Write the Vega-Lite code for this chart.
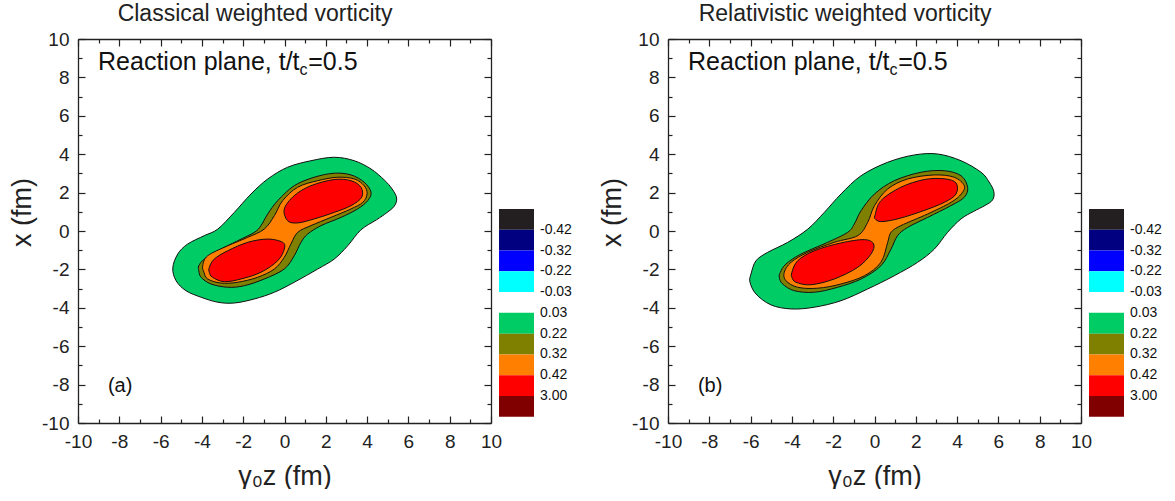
{
  "$schema": "https://vega.github.io/schema/vega-lite/v6.json",
  "autosize": {"type": "pad"},
  "padding": {"left": 8, "top": 3, "right": 0, "bottom": 0},
  "background": "white",
  "config": {
    "font": "Liberation Sans",
    "view": {"stroke": null},
    "axis": {"domainColor": "#222", "domainWidth": 1.3, "tickColor": "#222", "tickWidth": 1.2, "labelColor": "#222", "titleColor": "#222", "labelFont": "Liberation Sans", "titleFont": "Liberation Sans", "labelFontSize": 19, "titleFontSize": 27, "titleFontWeight": "normal", "grid": false, "labelOverlap": false, "labelFlush": false}
  },
  "bounds": "flush",
  "spacing": 8,
  "datasets": {
    "contours": [
      {"p":"a","g":"1","b":"0.03 to 0.22","i":0,"x":-5.41,"y":-1.93},{"p":"a","g":"1","b":"0.03 to 0.22","i":1,"x":-5.17,"y":-1.2},{"p":"a","g":"1","b":"0.03 to 0.22","i":2,"x":-4.69,"y":-0.68},{"p":"a","g":"1","b":"0.03 to 0.22","i":3,"x":-3.88,"y":-0.24},{"p":"a","g":"1","b":"0.03 to 0.22","i":4,"x":-3.23,"y":0.1},{"p":"a","g":"1","b":"0.03 to 0.22","i":5,"x":-2.43,"y":0.97},{"p":"a","g":"1","b":"0.03 to 0.22","i":6,"x":-1.62,"y":1.93},{"p":"a","g":"1","b":"0.03 to 0.22","i":7,"x":-0.81,"y":2.71},{"p":"a","g":"1","b":"0.03 to 0.22","i":8,"x":0.15,"y":3.32},{"p":"a","g":"1","b":"0.03 to 0.22","i":9,"x":1.28,"y":3.66},{"p":"a","g":"1","b":"0.03 to 0.22","i":10,"x":2.41,"y":3.84},{"p":"a","g":"1","b":"0.03 to 0.22","i":11,"x":3.38,"y":3.66},{"p":"a","g":"1","b":"0.03 to 0.22","i":12,"x":4.19,"y":3.23},{"p":"a","g":"1","b":"0.03 to 0.22","i":13,"x":4.83,"y":2.66},{"p":"a","g":"1","b":"0.03 to 0.22","i":14,"x":5.21,"y":2.19},{"p":"a","g":"1","b":"0.03 to 0.22","i":15,"x":5.43,"y":1.72},{"p":"a","g":"1","b":"0.03 to 0.22","i":16,"x":5.32,"y":1.3},{"p":"a","g":"1","b":"0.03 to 0.22","i":17,"x":4.95,"y":0.95},{"p":"a","g":"1","b":"0.03 to 0.22","i":18,"x":4.45,"y":0.58},{"p":"a","g":"1","b":"0.03 to 0.22","i":19,"x":3.7,"y":0.06},{"p":"a","g":"1","b":"0.03 to 0.22","i":20,"x":3.06,"y":-0.77},{"p":"a","g":"1","b":"0.03 to 0.22","i":21,"x":2.41,"y":-1.46},{"p":"a","g":"1","b":"0.03 to 0.22","i":22,"x":1.61,"y":-1.98},{"p":"a","g":"1","b":"0.03 to 0.22","i":23,"x":0.47,"y":-2.67},{"p":"a","g":"1","b":"0.03 to 0.22","i":24,"x":-0.49,"y":-3.19},{"p":"a","g":"1","b":"0.03 to 0.22","i":25,"x":-1.46,"y":-3.54},{"p":"a","g":"1","b":"0.03 to 0.22","i":26,"x":-2.43,"y":-3.75},{"p":"a","g":"1","b":"0.03 to 0.22","i":27,"x":-3.23,"y":-3.71},{"p":"a","g":"1","b":"0.03 to 0.22","i":28,"x":-4.04,"y":-3.45},{"p":"a","g":"1","b":"0.03 to 0.22","i":29,"x":-4.77,"y":-3.11},{"p":"a","g":"1","b":"0.03 to 0.22","i":30,"x":-5.25,"y":-2.59},
      {"p":"a","g":"2","b":"0.22 to 0.32","i":0,"x":-4.15,"y":-1.81},{"p":"a","g":"2","b":"0.22 to 0.32","i":1,"x":-3.88,"y":-1.46},{"p":"a","g":"2","b":"0.22 to 0.32","i":2,"x":-3.23,"y":-1.03},{"p":"a","g":"2","b":"0.22 to 0.32","i":3,"x":-2.27,"y":-0.51},{"p":"a","g":"2","b":"0.22 to 0.32","i":4,"x":-1.46,"y":-0.07},{"p":"a","g":"2","b":"0.22 to 0.32","i":5,"x":-1.14,"y":0.28},{"p":"a","g":"2","b":"0.22 to 0.32","i":6,"x":-0.81,"y":0.89},{"p":"a","g":"2","b":"0.22 to 0.32","i":7,"x":-0.33,"y":1.58},{"p":"a","g":"2","b":"0.22 to 0.32","i":8,"x":0.47,"y":2.36},{"p":"a","g":"2","b":"0.22 to 0.32","i":9,"x":1.44,"y":2.8},{"p":"a","g":"2","b":"0.22 to 0.32","i":10,"x":2.41,"y":3.01},{"p":"a","g":"2","b":"0.22 to 0.32","i":11,"x":3.22,"y":2.92},{"p":"a","g":"2","b":"0.22 to 0.32","i":12,"x":3.86,"y":2.54},{"p":"a","g":"2","b":"0.22 to 0.32","i":13,"x":4.19,"y":2.02},{"p":"a","g":"2","b":"0.22 to 0.32","i":14,"x":4.03,"y":1.58},{"p":"a","g":"2","b":"0.22 to 0.32","i":15,"x":3.54,"y":1.15},{"p":"a","g":"2","b":"0.22 to 0.32","i":16,"x":2.74,"y":0.71},{"p":"a","g":"2","b":"0.22 to 0.32","i":17,"x":1.77,"y":0.28},{"p":"a","g":"2","b":"0.22 to 0.32","i":18,"x":1.12,"y":-0.16},{"p":"a","g":"2","b":"0.22 to 0.32","i":19,"x":0.8,"y":-0.59},{"p":"a","g":"2","b":"0.22 to 0.32","i":20,"x":0.47,"y":-1.29},{"p":"a","g":"2","b":"0.22 to 0.32","i":21,"x":-0.01,"y":-1.98},{"p":"a","g":"2","b":"0.22 to 0.32","i":22,"x":-0.98,"y":-2.5},{"p":"a","g":"2","b":"0.22 to 0.32","i":23,"x":-1.95,"y":-2.85},{"p":"a","g":"2","b":"0.22 to 0.32","i":24,"x":-2.75,"y":-2.93},{"p":"a","g":"2","b":"0.22 to 0.32","i":25,"x":-3.56,"y":-2.76},{"p":"a","g":"2","b":"0.22 to 0.32","i":26,"x":-4.04,"y":-2.41},{"p":"a","g":"2","b":"0.22 to 0.32","i":27,"x":-4.15,"y":-2.07},
      {"p":"a","g":"3","b":"0.32 to 0.42","i":0,"x":-3.96,"y":-1.81},{"p":"a","g":"3","b":"0.32 to 0.42","i":1,"x":-3.72,"y":-1.29},{"p":"a","g":"3","b":"0.32 to 0.42","i":2,"x":-2.75,"y":-0.77},{"p":"a","g":"3","b":"0.32 to 0.42","i":3,"x":-1.78,"y":-0.33},{"p":"a","g":"3","b":"0.32 to 0.42","i":4,"x":-0.98,"y":0.1},{"p":"a","g":"3","b":"0.32 to 0.42","i":5,"x":-0.49,"y":0.8},{"p":"a","g":"3","b":"0.32 to 0.42","i":6,"x":-0.09,"y":1.58},{"p":"a","g":"3","b":"0.32 to 0.42","i":7,"x":0.64,"y":2.28},{"p":"a","g":"3","b":"0.32 to 0.42","i":8,"x":1.61,"y":2.62},{"p":"a","g":"3","b":"0.32 to 0.42","i":9,"x":2.58,"y":2.8},{"p":"a","g":"3","b":"0.32 to 0.42","i":10,"x":3.38,"y":2.71},{"p":"a","g":"3","b":"0.32 to 0.42","i":11,"x":3.86,"y":2.36},{"p":"a","g":"3","b":"0.32 to 0.42","i":12,"x":4.0,"y":1.93},{"p":"a","g":"3","b":"0.32 to 0.42","i":13,"x":3.79,"y":1.49},{"p":"a","g":"3","b":"0.32 to 0.42","i":14,"x":3.22,"y":1.15},{"p":"a","g":"3","b":"0.32 to 0.42","i":15,"x":2.25,"y":0.71},{"p":"a","g":"3","b":"0.32 to 0.42","i":16,"x":1.28,"y":0.28},{"p":"a","g":"3","b":"0.32 to 0.42","i":17,"x":0.64,"y":-0.07},{"p":"a","g":"3","b":"0.32 to 0.42","i":18,"x":0.31,"y":-0.68},{"p":"a","g":"3","b":"0.32 to 0.42","i":19,"x":-0.01,"y":-1.37},{"p":"a","g":"3","b":"0.32 to 0.42","i":20,"x":-0.49,"y":-1.98},{"p":"a","g":"3","b":"0.32 to 0.42","i":21,"x":-1.3,"y":-2.41},{"p":"a","g":"3","b":"0.32 to 0.42","i":22,"x":-2.27,"y":-2.67},{"p":"a","g":"3","b":"0.32 to 0.42","i":23,"x":-3.08,"y":-2.71},{"p":"a","g":"3","b":"0.32 to 0.42","i":24,"x":-3.72,"y":-2.5},{"p":"a","g":"3","b":"0.32 to 0.42","i":25,"x":-3.9,"y":-2.15},
      {"p":"a","g":"4","b":"0.42 to 3.00","i":0,"x":-0.01,"y":1.15},{"p":"a","g":"4","b":"0.42 to 3.00","i":1,"x":0.47,"y":1.84},{"p":"a","g":"4","b":"0.42 to 3.00","i":2,"x":1.28,"y":2.36},{"p":"a","g":"4","b":"0.42 to 3.00","i":3,"x":2.41,"y":2.68},{"p":"a","g":"4","b":"0.42 to 3.00","i":4,"x":3.22,"y":2.62},{"p":"a","g":"4","b":"0.42 to 3.00","i":5,"x":3.7,"y":2.28},{"p":"a","g":"4","b":"0.42 to 3.00","i":6,"x":3.74,"y":1.76},{"p":"a","g":"4","b":"0.42 to 3.00","i":7,"x":3.22,"y":1.32},{"p":"a","g":"4","b":"0.42 to 3.00","i":8,"x":2.41,"y":0.97},{"p":"a","g":"4","b":"0.42 to 3.00","i":9,"x":1.44,"y":0.63},{"p":"a","g":"4","b":"0.42 to 3.00","i":10,"x":0.64,"y":0.42},{"p":"a","g":"4","b":"0.42 to 3.00","i":11,"x":0.15,"y":0.54},
      {"p":"a","g":"5","b":"0.42 to 3.00","i":0,"x":-3.64,"y":-1.89},{"p":"a","g":"5","b":"0.42 to 3.00","i":1,"x":-3.4,"y":-1.46},{"p":"a","g":"5","b":"0.42 to 3.00","i":2,"x":-2.75,"y":-1.03},{"p":"a","g":"5","b":"0.42 to 3.00","i":3,"x":-1.78,"y":-0.59},{"p":"a","g":"5","b":"0.42 to 3.00","i":4,"x":-0.81,"y":-0.42},{"p":"a","g":"5","b":"0.42 to 3.00","i":5,"x":-0.09,"y":-0.59},{"p":"a","g":"5","b":"0.42 to 3.00","i":6,"x":-0.01,"y":-0.94},{"p":"a","g":"5","b":"0.42 to 3.00","i":7,"x":-0.33,"y":-1.55},{"p":"a","g":"5","b":"0.42 to 3.00","i":8,"x":-1.14,"y":-2.15},{"p":"a","g":"5","b":"0.42 to 3.00","i":9,"x":-2.11,"y":-2.5},{"p":"a","g":"5","b":"0.42 to 3.00","i":10,"x":-2.92,"y":-2.64},{"p":"a","g":"5","b":"0.42 to 3.00","i":11,"x":-3.49,"y":-2.41},{"p":"a","g":"5","b":"0.42 to 3.00","i":12,"x":-3.64,"y":-2.15},
      {"p":"b","g":"1","b":"0.03 to 0.22","i":0,"x":-5.98,"y":-2.24},{"p":"b","g":"1","b":"0.03 to 0.22","i":1,"x":-5.74,"y":-1.55},{"p":"b","g":"1","b":"0.03 to 0.22","i":2,"x":-5.17,"y":-1.11},{"p":"b","g":"1","b":"0.03 to 0.22","i":3,"x":-4.2,"y":-0.59},{"p":"b","g":"1","b":"0.03 to 0.22","i":4,"x":-3.23,"y":0.1},{"p":"b","g":"1","b":"0.03 to 0.22","i":5,"x":-2.43,"y":0.97},{"p":"b","g":"1","b":"0.03 to 0.22","i":6,"x":-1.62,"y":1.93},{"p":"b","g":"1","b":"0.03 to 0.22","i":7,"x":-0.65,"y":2.88},{"p":"b","g":"1","b":"0.03 to 0.22","i":8,"x":0.64,"y":3.58},{"p":"b","g":"1","b":"0.03 to 0.22","i":9,"x":1.93,"y":3.96},{"p":"b","g":"1","b":"0.03 to 0.22","i":10,"x":3.06,"y":4.01},{"p":"b","g":"1","b":"0.03 to 0.22","i":11,"x":4.19,"y":3.66},{"p":"b","g":"1","b":"0.03 to 0.22","i":12,"x":5.16,"y":3.06},{"p":"b","g":"1","b":"0.03 to 0.22","i":13,"x":5.55,"y":2.55},{"p":"b","g":"1","b":"0.03 to 0.22","i":14,"x":5.78,"y":2.05},{"p":"b","g":"1","b":"0.03 to 0.22","i":15,"x":5.72,"y":1.62},{"p":"b","g":"1","b":"0.03 to 0.22","i":16,"x":5.35,"y":1.33},{"p":"b","g":"1","b":"0.03 to 0.22","i":17,"x":4.8,"y":1.02},{"p":"b","g":"1","b":"0.03 to 0.22","i":18,"x":4.19,"y":0.63},{"p":"b","g":"1","b":"0.03 to 0.22","i":19,"x":3.54,"y":-0.07},{"p":"b","g":"1","b":"0.03 to 0.22","i":20,"x":2.9,"y":-0.94},{"p":"b","g":"1","b":"0.03 to 0.22","i":21,"x":2.09,"y":-1.63},{"p":"b","g":"1","b":"0.03 to 0.22","i":22,"x":0.96,"y":-2.33},{"p":"b","g":"1","b":"0.03 to 0.22","i":23,"x":-0.33,"y":-3.02},{"p":"b","g":"1","b":"0.03 to 0.22","i":24,"x":-1.62,"y":-3.63},{"p":"b","g":"1","b":"0.03 to 0.22","i":25,"x":-2.92,"y":-3.97},{"p":"b","g":"1","b":"0.03 to 0.22","i":26,"x":-4.04,"y":-4.06},{"p":"b","g":"1","b":"0.03 to 0.22","i":27,"x":-5.01,"y":-3.85},{"p":"b","g":"1","b":"0.03 to 0.22","i":28,"x":-5.74,"y":-3.28},{"p":"b","g":"1","b":"0.03 to 0.22","i":29,"x":-6.03,"y":-2.66},
      {"p":"b","g":"2","b":"0.22 to 0.32","i":0,"x":-4.56,"y":-2.15},{"p":"b","g":"2","b":"0.22 to 0.32","i":1,"x":-4.29,"y":-1.72},{"p":"b","g":"2","b":"0.22 to 0.32","i":2,"x":-3.56,"y":-1.2},{"p":"b","g":"2","b":"0.22 to 0.32","i":3,"x":-2.27,"y":-0.59},{"p":"b","g":"2","b":"0.22 to 0.32","i":4,"x":-1.3,"y":-0.07},{"p":"b","g":"2","b":"0.22 to 0.32","i":5,"x":-0.98,"y":0.36},{"p":"b","g":"2","b":"0.22 to 0.32","i":6,"x":-0.65,"y":1.06},{"p":"b","g":"2","b":"0.22 to 0.32","i":7,"x":0.0,"y":1.93},{"p":"b","g":"2","b":"0.22 to 0.32","i":8,"x":0.96,"y":2.62},{"p":"b","g":"2","b":"0.22 to 0.32","i":9,"x":2.25,"y":3.06},{"p":"b","g":"2","b":"0.22 to 0.32","i":10,"x":3.38,"y":3.14},{"p":"b","g":"2","b":"0.22 to 0.32","i":11,"x":4.19,"y":2.88},{"p":"b","g":"2","b":"0.22 to 0.32","i":12,"x":4.51,"y":2.28},{"p":"b","g":"2","b":"0.22 to 0.32","i":13,"x":4.35,"y":1.76},{"p":"b","g":"2","b":"0.22 to 0.32","i":14,"x":3.7,"y":1.32},{"p":"b","g":"2","b":"0.22 to 0.32","i":15,"x":2.58,"y":0.71},{"p":"b","g":"2","b":"0.22 to 0.32","i":16,"x":1.61,"y":0.19},{"p":"b","g":"2","b":"0.22 to 0.32","i":17,"x":1.12,"y":-0.24},{"p":"b","g":"2","b":"0.22 to 0.32","i":18,"x":0.8,"y":-0.94},{"p":"b","g":"2","b":"0.22 to 0.32","i":19,"x":0.31,"y":-1.81},{"p":"b","g":"2","b":"0.22 to 0.32","i":20,"x":-0.65,"y":-2.5},{"p":"b","g":"2","b":"0.22 to 0.32","i":21,"x":-1.78,"y":-2.93},{"p":"b","g":"2","b":"0.22 to 0.32","i":22,"x":-2.92,"y":-3.19},{"p":"b","g":"2","b":"0.22 to 0.32","i":23,"x":-3.88,"y":-3.11},{"p":"b","g":"2","b":"0.22 to 0.32","i":24,"x":-4.45,"y":-2.76},{"p":"b","g":"2","b":"0.22 to 0.32","i":25,"x":-4.61,"y":-2.41},
      {"p":"b","g":"3","b":"0.32 to 0.42","i":0,"x":-4.37,"y":-2.15},{"p":"b","g":"3","b":"0.32 to 0.42","i":1,"x":-4.04,"y":-1.63},{"p":"b","g":"3","b":"0.32 to 0.42","i":2,"x":-3.23,"y":-1.11},{"p":"b","g":"3","b":"0.32 to 0.42","i":3,"x":-1.95,"y":-0.59},{"p":"b","g":"3","b":"0.32 to 0.42","i":4,"x":-0.81,"y":-0.24},{"p":"b","g":"3","b":"0.32 to 0.42","i":5,"x":-0.33,"y":0.45},{"p":"b","g":"3","b":"0.32 to 0.42","i":6,"x":0.0,"y":1.32},{"p":"b","g":"3","b":"0.32 to 0.42","i":7,"x":0.64,"y":2.19},{"p":"b","g":"3","b":"0.32 to 0.42","i":8,"x":1.61,"y":2.71},{"p":"b","g":"3","b":"0.32 to 0.42","i":9,"x":2.9,"y":2.92},{"p":"b","g":"3","b":"0.32 to 0.42","i":10,"x":3.86,"y":2.8},{"p":"b","g":"3","b":"0.32 to 0.42","i":11,"x":4.35,"y":2.36},{"p":"b","g":"3","b":"0.32 to 0.42","i":12,"x":4.2,"y":1.93},{"p":"b","g":"3","b":"0.32 to 0.42","i":13,"x":3.7,"y":1.49},{"p":"b","g":"3","b":"0.32 to 0.42","i":14,"x":2.58,"y":0.89},{"p":"b","g":"3","b":"0.32 to 0.42","i":15,"x":1.28,"y":0.28},{"p":"b","g":"3","b":"0.32 to 0.42","i":16,"x":0.8,"y":-0.07},{"p":"b","g":"3","b":"0.32 to 0.42","i":17,"x":0.64,"y":-0.59},{"p":"b","g":"3","b":"0.32 to 0.42","i":18,"x":0.31,"y":-1.63},{"p":"b","g":"3","b":"0.32 to 0.42","i":19,"x":-0.49,"y":-2.33},{"p":"b","g":"3","b":"0.32 to 0.42","i":20,"x":-1.62,"y":-2.76},{"p":"b","g":"3","b":"0.32 to 0.42","i":21,"x":-2.75,"y":-2.98},{"p":"b","g":"3","b":"0.32 to 0.42","i":22,"x":-3.72,"y":-2.93},{"p":"b","g":"3","b":"0.32 to 0.42","i":23,"x":-4.29,"y":-2.59},
      {"p":"b","g":"4","b":"0.42 to 3.00","i":0,"x":0.02,"y":0.8},{"p":"b","g":"4","b":"0.42 to 3.00","i":1,"x":0.31,"y":1.58},{"p":"b","g":"4","b":"0.42 to 3.00","i":2,"x":1.28,"y":2.28},{"p":"b","g":"4","b":"0.42 to 3.00","i":3,"x":2.41,"y":2.68},{"p":"b","g":"4","b":"0.42 to 3.00","i":4,"x":3.38,"y":2.72},{"p":"b","g":"4","b":"0.42 to 3.00","i":5,"x":3.95,"y":2.5},{"p":"b","g":"4","b":"0.42 to 3.00","i":6,"x":3.95,"y":1.93},{"p":"b","g":"4","b":"0.42 to 3.00","i":7,"x":3.38,"y":1.49},{"p":"b","g":"4","b":"0.42 to 3.00","i":8,"x":2.25,"y":1.01},{"p":"b","g":"4","b":"0.42 to 3.00","i":9,"x":1.12,"y":0.63},{"p":"b","g":"4","b":"0.42 to 3.00","i":10,"x":0.31,"y":0.49},{"p":"b","g":"4","b":"0.42 to 3.00","i":11,"x":0.04,"y":0.63},
      {"p":"b","g":"5","b":"0.42 to 3.00","i":0,"x":-4.0,"y":-2.15},{"p":"b","g":"5","b":"0.42 to 3.00","i":1,"x":-3.72,"y":-1.55},{"p":"b","g":"5","b":"0.42 to 3.00","i":2,"x":-2.92,"y":-1.03},{"p":"b","g":"5","b":"0.42 to 3.00","i":3,"x":-1.62,"y":-0.62},{"p":"b","g":"5","b":"0.42 to 3.00","i":4,"x":-0.49,"y":-0.45},{"p":"b","g":"5","b":"0.42 to 3.00","i":5,"x":-0.04,"y":-0.68},{"p":"b","g":"5","b":"0.42 to 3.00","i":6,"x":-0.17,"y":-1.2},{"p":"b","g":"5","b":"0.42 to 3.00","i":7,"x":-0.81,"y":-1.89},{"p":"b","g":"5","b":"0.42 to 3.00","i":8,"x":-1.95,"y":-2.5},{"p":"b","g":"5","b":"0.42 to 3.00","i":9,"x":-3.08,"y":-2.8},{"p":"b","g":"5","b":"0.42 to 3.00","i":10,"x":-3.8,"y":-2.67},{"p":"b","g":"5","b":"0.42 to 3.00","i":11,"x":-4.0,"y":-2.41}
    ],
    "legendBoxes": [
      {"band":"below -0.42","lo":0,"hi":1},
      {"band":"-0.42 to -0.32","lo":1,"hi":2},
      {"band":"-0.32 to -0.22","lo":2,"hi":3},
      {"band":"-0.22 to -0.03","lo":3,"hi":4},
      {"band":"0.03 to 0.22","lo":5,"hi":6},
      {"band":"0.22 to 0.32","lo":6,"hi":7},
      {"band":"0.32 to 0.42","lo":7,"hi":8},
      {"band":"0.42 to 3.00","lo":8,"hi":9},
      {"band":"above 3.00","lo":9,"hi":10}
    ],
    "legendLabels": [
      {"label":"-0.42","at":1},{"label":"-0.32","at":2},{"label":"-0.22","at":3},{"label":"-0.03","at":4},
      {"label":"0.03","at":5},{"label":"0.22","at":6},{"label":"0.32","at":7},{"label":"0.42","at":8},{"label":"3.00","at":9}
    ],
    "notes": [
      {"p":"a","part":"main","x":-9.03,"y":8.39,"text":"Reaction plane, t/t"},
      {"p":"a","part":"sub","x":0.73,"y":8.12,"text":"c"},
      {"p":"a","part":"main","x":1.15,"y":8.39,"text":"=0.5"},
      {"p":"a","part":"tag","x":-8.55,"y":-8.39,"text":"(a)"},
      {"p":"b","part":"main","x":-9.03,"y":8.39,"text":"Reaction plane, t/t"},
      {"p":"b","part":"sub","x":0.73,"y":8.12,"text":"c"},
      {"p":"b","part":"main","x":1.15,"y":8.39,"text":"=0.5"},
      {"p":"b","part":"tag","x":-8.55,"y":-8.39,"text":"(b)"}
    ]
  },
  "hconcat": [
    {
      "width": 413, "height": 384,
      "title": {"text": "Classical weighted vorticity", "fontSize": 23, "fontWeight": "normal", "font": "Liberation Sans", "color": "#222", "frame": "bounds", "anchor": "middle", "offset": 4},
      "resolve": {"axis": {"x": "independent", "y": "independent"}},
      "layer": [
        {
          "data": {"name": "contours"},
          "transform": [{"filter": "datum.p === 'a'"}],
          "mark": {"type": "line", "interpolate": "cardinal-closed", "stroke": "#111", "strokeWidth": 1},
          "encoding": {
            "x": {"field": "x", "type": "quantitative", "scale": {"domain": [-10, 10], "nice": false, "zero": false},
              "axis": {"orient": "bottom", "values": [-10,-8,-6,-4,-2,0,2,4,6,8,10], "labelExpr": "'' + datum.value", "ticks": false, "labelPadding": 9, "title": "γ₀z (fm)", "titlePadding": 12}},
            "y": {"field": "y", "type": "quantitative", "scale": {"domain": [-10, 10], "nice": false, "zero": false},
              "axis": {"orient": "left", "values": [-10,-8,-6,-4,-2,0,2,4,6,8,10], "labelExpr": "'' + datum.value", "ticks": false, "labelPadding": 9, "title": "x (fm)", "titlePadding": 5, "titleY": 173}},
            "fill": {"field": "b", "type": "nominal", "legend": null, "scale": {"domain": ["below -0.42","-0.42 to -0.32","-0.32 to -0.22","-0.22 to -0.03","0.03 to 0.22","0.22 to 0.32","0.32 to 0.42","0.42 to 3.00","above 3.00"], "range": ["#231f20","#000080","#0000ff","#00ffff","#00cc66","#808000","#ff8000","#ff0000","#800000"]}},
            "detail": {"field": "g"},
            "order": {"field": "i", "type": "quantitative"}
          }
        },
        {
          "data": {"name": "notes"},
          "transform": [{"filter": "datum.p === 'a' && datum.part === 'main'"}],
          "mark": {"type": "text", "align": "left", "baseline": "alphabetic", "fontSize": 25, "color": "#111"},
          "encoding": {
            "x": {"field": "x", "type": "quantitative", "axis": {"orient": "top", "offset": -384, "domain": false, "values": [-10,-9,-8,-7,-6,-5,-4,-3,-2,-1,0,1,2,3,4,5,6,7,8,9,10], "labels": false, "title": null, "tickSize": 7, "tickDash": {"condition": {"test": "datum.value % 2 !== 0", "value": [4, 40]}, "value": [20, 1]}}},
            "y": {"field": "y", "type": "quantitative", "axis": {"orient": "right", "offset": -413, "domain": false, "values": [-10,-9,-8,-7,-6,-5,-4,-3,-2,-1,0,1,2,3,4,5,6,7,8,9,10], "labels": false, "title": null, "tickSize": 7, "tickDash": {"condition": {"test": "datum.value % 2 !== 0", "value": [4, 40]}, "value": [20, 1]}}},
            "text": {"field": "text"}
          }
        },
        {
          "data": {"name": "notes"},
          "transform": [{"filter": "datum.p === 'a' && datum.part === 'sub'"}],
          "mark": {"type": "text", "align": "left", "baseline": "alphabetic", "fontSize": 16, "color": "#111"},
          "encoding": {
            "x": {"field": "x", "type": "quantitative", "axis": {"orient": "bottom", "offset": -384, "values": [-10,-9,-8,-7,-6,-5,-4,-3,-2,-1,0,1,2,3,4,5,6,7,8,9,10], "labels": false, "title": null, "tickSize": 7, "tickDash": {"condition": {"test": "datum.value % 2 !== 0", "value": [4, 40]}, "value": [20, 1]}}},
            "y": {"field": "y", "type": "quantitative", "axis": {"orient": "left", "offset": -413, "values": [-10,-9,-8,-7,-6,-5,-4,-3,-2,-1,0,1,2,3,4,5,6,7,8,9,10], "labels": false, "title": null, "tickSize": 7, "tickDash": {"condition": {"test": "datum.value % 2 !== 0", "value": [4, 40]}, "value": [20, 1]}}},
            "text": {"field": "text"}
          }
        },
        {
          "data": {"name": "notes"},
          "transform": [{"filter": "datum.p === 'a' && datum.part === 'tag'"}],
          "mark": {"type": "text", "align": "left", "baseline": "alphabetic", "fontSize": 20, "color": "#111"},
          "encoding": {
            "x": {"field": "x", "type": "quantitative", "axis": null},
            "y": {"field": "y", "type": "quantitative", "axis": null},
            "text": {"field": "text"}
          }
        }
      ]
    },
    {
      "width": 161, "height": 384,
      "layer": [
        {
          "data": {"name": "legendBoxes"},
          "mark": {"type": "rect"},
          "encoding": {
            "x": {"datum": 0, "type": "quantitative", "scale": {"domain": [0, 4.6], "nice": false, "zero": false}, "axis": null},
            "x2": {"datum": 1},
            "y": {"field": "lo", "type": "quantitative", "scale": {"domain": [-8.18, 10.3], "reverse": true, "nice": false, "zero": false}, "axis": null},
            "y2": {"field": "hi"},
            "fill": {"field": "band", "type": "nominal", "legend": null, "scale": {"domain": ["below -0.42","-0.42 to -0.32","-0.32 to -0.22","-0.22 to -0.03","0.03 to 0.22","0.22 to 0.32","0.32 to 0.42","0.42 to 3.00","above 3.00"], "range": ["#231f20","#000080","#0000ff","#00ffff","#00cc66","#808000","#ff8000","#ff0000","#800000"]}}
          }
        },
        {
          "data": {"name": "legendLabels"},
          "mark": {"type": "text", "align": "left", "baseline": "middle", "dx": 6, "fontSize": 14, "color": "#111"},
          "encoding": {
            "x": {"datum": 1, "type": "quantitative"},
            "y": {"field": "at", "type": "quantitative"},
            "text": {"field": "label"}
          }
        }
      ]
    },
    {
      "width": 413, "height": 384,
      "title": {"text": "Relativistic weighted vorticity", "fontSize": 23, "fontWeight": "normal", "font": "Liberation Sans", "color": "#222", "frame": "bounds", "anchor": "middle", "offset": 4},
      "resolve": {"axis": {"x": "independent", "y": "independent"}},
      "layer": [
        {
          "data": {"name": "contours"},
          "transform": [{"filter": "datum.p === 'b'"}],
          "mark": {"type": "line", "interpolate": "cardinal-closed", "stroke": "#111", "strokeWidth": 1},
          "encoding": {
            "x": {"field": "x", "type": "quantitative", "scale": {"domain": [-10, 10], "nice": false, "zero": false},
              "axis": {"orient": "bottom", "values": [-10,-8,-6,-4,-2,0,2,4,6,8,10], "labelExpr": "'' + datum.value", "ticks": false, "labelPadding": 9, "title": "γ₀z (fm)", "titlePadding": 12}},
            "y": {"field": "y", "type": "quantitative", "scale": {"domain": [-10, 10], "nice": false, "zero": false},
              "axis": {"orient": "left", "values": [-10,-8,-6,-4,-2,0,2,4,6,8,10], "labelExpr": "'' + datum.value", "ticks": false, "labelPadding": 9, "title": "x (fm)", "titlePadding": 5, "titleY": 173}},
            "fill": {"field": "b", "type": "nominal", "legend": null, "scale": {"domain": ["below -0.42","-0.42 to -0.32","-0.32 to -0.22","-0.22 to -0.03","0.03 to 0.22","0.22 to 0.32","0.32 to 0.42","0.42 to 3.00","above 3.00"], "range": ["#231f20","#000080","#0000ff","#00ffff","#00cc66","#808000","#ff8000","#ff0000","#800000"]}},
            "detail": {"field": "g"},
            "order": {"field": "i", "type": "quantitative"}
          }
        },
        {
          "data": {"name": "notes"},
          "transform": [{"filter": "datum.p === 'b' && datum.part === 'main'"}],
          "mark": {"type": "text", "align": "left", "baseline": "alphabetic", "fontSize": 25, "color": "#111"},
          "encoding": {
            "x": {"field": "x", "type": "quantitative", "axis": {"orient": "top", "offset": -384, "domain": false, "values": [-10,-9,-8,-7,-6,-5,-4,-3,-2,-1,0,1,2,3,4,5,6,7,8,9,10], "labels": false, "title": null, "tickSize": 7, "tickDash": {"condition": {"test": "datum.value % 2 !== 0", "value": [4, 40]}, "value": [20, 1]}}},
            "y": {"field": "y", "type": "quantitative", "axis": {"orient": "right", "offset": -413, "domain": false, "values": [-10,-9,-8,-7,-6,-5,-4,-3,-2,-1,0,1,2,3,4,5,6,7,8,9,10], "labels": false, "title": null, "tickSize": 7, "tickDash": {"condition": {"test": "datum.value % 2 !== 0", "value": [4, 40]}, "value": [20, 1]}}},
            "text": {"field": "text"}
          }
        },
        {
          "data": {"name": "notes"},
          "transform": [{"filter": "datum.p === 'b' && datum.part === 'sub'"}],
          "mark": {"type": "text", "align": "left", "baseline": "alphabetic", "fontSize": 16, "color": "#111"},
          "encoding": {
            "x": {"field": "x", "type": "quantitative", "axis": {"orient": "bottom", "offset": -384, "values": [-10,-9,-8,-7,-6,-5,-4,-3,-2,-1,0,1,2,3,4,5,6,7,8,9,10], "labels": false, "title": null, "tickSize": 7, "tickDash": {"condition": {"test": "datum.value % 2 !== 0", "value": [4, 40]}, "value": [20, 1]}}},
            "y": {"field": "y", "type": "quantitative", "axis": {"orient": "left", "offset": -413, "values": [-10,-9,-8,-7,-6,-5,-4,-3,-2,-1,0,1,2,3,4,5,6,7,8,9,10], "labels": false, "title": null, "tickSize": 7, "tickDash": {"condition": {"test": "datum.value % 2 !== 0", "value": [4, 40]}, "value": [20, 1]}}},
            "text": {"field": "text"}
          }
        },
        {
          "data": {"name": "notes"},
          "transform": [{"filter": "datum.p === 'b' && datum.part === 'tag'"}],
          "mark": {"type": "text", "align": "left", "baseline": "alphabetic", "fontSize": 20, "color": "#111"},
          "encoding": {
            "x": {"field": "x", "type": "quantitative", "axis": null},
            "y": {"field": "y", "type": "quantitative", "axis": null},
            "text": {"field": "text"}
          }
        }
      ]
    },
    {
      "width": 60, "height": 384,
      "layer": [
        {
          "data": {"name": "legendBoxes"},
          "mark": {"type": "rect"},
          "encoding": {
            "x": {"datum": 0, "type": "quantitative", "scale": {"domain": [0, 1.7143], "nice": false, "zero": false}, "axis": null},
            "x2": {"datum": 1},
            "y": {"field": "lo", "type": "quantitative", "scale": {"domain": [-8.18, 10.3], "reverse": true, "nice": false, "zero": false}, "axis": null},
            "y2": {"field": "hi"},
            "fill": {"field": "band", "type": "nominal", "legend": null, "scale": {"domain": ["below -0.42","-0.42 to -0.32","-0.32 to -0.22","-0.22 to -0.03","0.03 to 0.22","0.22 to 0.32","0.32 to 0.42","0.42 to 3.00","above 3.00"], "range": ["#231f20","#000080","#0000ff","#00ffff","#00cc66","#808000","#ff8000","#ff0000","#800000"]}}
          }
        },
        {
          "data": {"name": "legendLabels"},
          "mark": {"type": "text", "align": "left", "baseline": "middle", "dx": 6, "fontSize": 14, "color": "#111"},
          "encoding": {
            "x": {"datum": 1, "type": "quantitative"},
            "y": {"field": "at", "type": "quantitative"},
            "text": {"field": "label"}
          }
        }
      ]
    }
  ]
}
